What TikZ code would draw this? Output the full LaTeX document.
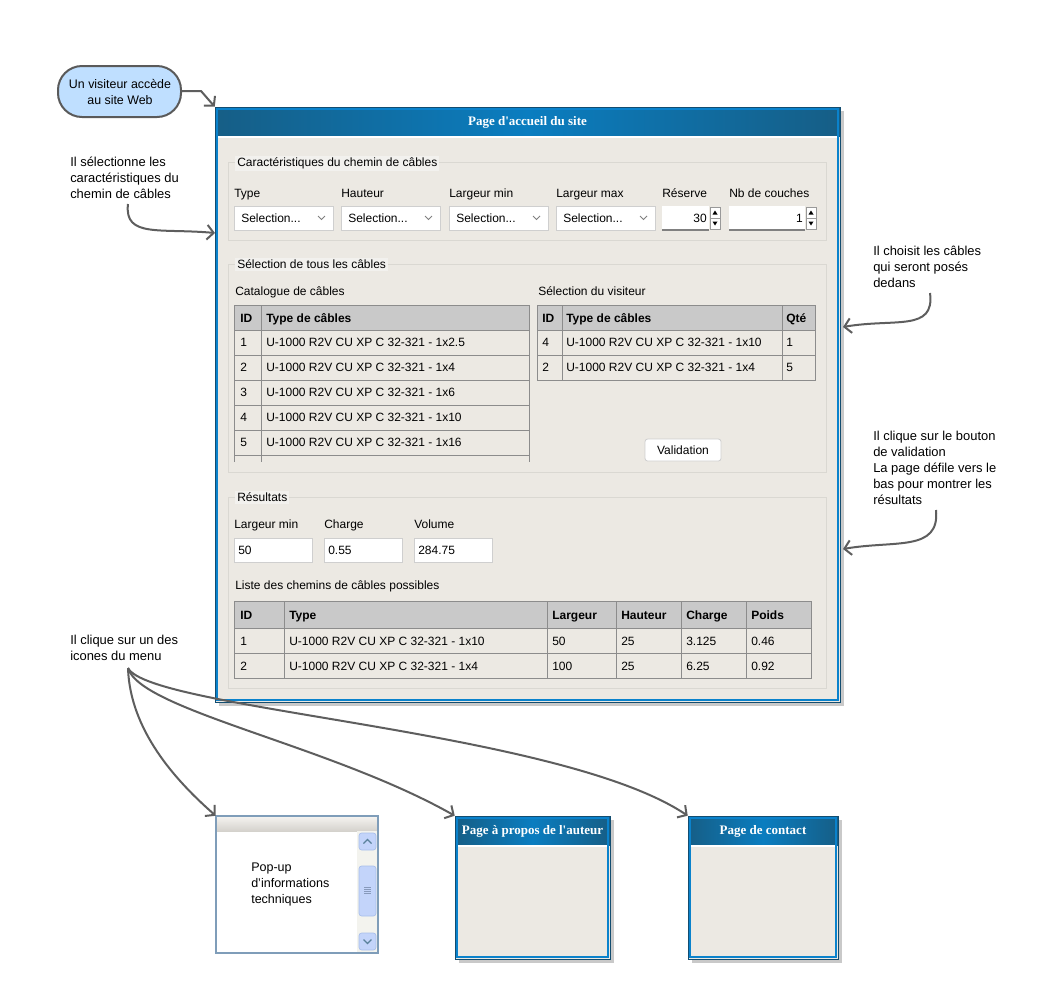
\documentclass[tikz,border=0pt]{standalone}
\usepackage{fontspec}
\setmainfont{Liberation Sans}
\newfontfamily\ttlfont{Liberation Serif}
\usetikzlibrary{arrows.meta,fit,calc}
\definecolor{bodyc}{HTML}{ECE9E3}
\definecolor{hdrc}{HTML}{165E86}
\definecolor{hdrmid}{HTML}{0A7DC0}
\definecolor{frameblue}{HTML}{0A82CC}
\definecolor{framedark}{HTML}{134D70}
\definecolor{shadowc}{HTML}{C9C9C9}
\definecolor{grpline}{HTML}{DAD8D2}
\definecolor{grpbg}{HTML}{F2F1EE}
\definecolor{hdrgray}{HTML}{C9C9C9}
\definecolor{cellc}{HTML}{8C8C8C}
\definecolor{connc}{HTML}{5E5E5E}
\definecolor{pillfill}{HTML}{BFDFFF}
\definecolor{pillline}{HTML}{5A5A5A}
\definecolor{popline}{HTML}{7F9DB9}
\definecolor{scrollbtn}{HTML}{C3D4FA}
\definecolor{scrollbd}{HTML}{A9BFEA}
\definecolor{tracker}{HTML}{F3F3EE}
\definecolor{ctrlline}{HTML}{CFCFCF}
\newcommand\uifont{\fontsize{9}{12}\selectfont}
\newcommand\annfont{\fontsize{9.7}{12}\selectfont}
\newcommand\webpage[6]{%
  \fill[shadowc] (#2+4,#3+4) rectangle (#4+4,#5+4);
  \fill[bodyc] (#2,#3) rectangle (#4,#5);
  \shade[left color=hdrc, right color=hdrc, middle color=hdrmid] (#2,#3) rectangle (#4,#3+29);
  \fill[white] (#2+2,#3+29) rectangle (#4-2,#3+31);
  \draw[framedark, line width=0.75pt] (#2,#3) rectangle (#4,#5);
  \draw[frameblue, line width=1.5pt] (#2+1.8,#3+1.8) rectangle (#4-1.8,#5-1.8);
  \node[fit={(#2,#3) (#4,#5)}, inner sep=0] (#1) {};
  \node[ttl] (#1-title) at ({(#2+#4)/2},#3+15) {#6};
}
\newcommand\dropbox[4]{% name, x1, x2, label
  \fill[white] (#2,206) rectangle (#3,230);
  \draw[ctrlline, line width=0.6pt] (#2,206) rectangle (#3,230);
  \node[t] (#1) at (#2+7,222.5) {#4};
  \draw[gray, line width=0.6pt] (#3-15,216) -- (#3-11.5,219.5) -- (#3-8,216);
}
\newcommand\spinbox[4]{% name, x1, x2, value
  \fill[white] (#2,206) rectangle (#3-11,230);
  \draw[gray, line width=0.8pt] (#2,230) -- (#3-11,230);
  \node[t, anchor=base east] (#1) at (#3-13,222.5) {#4};
  \fill[white] (#3-10,207) rectangle (#3,229);
  \draw[gray!80, line width=0.5pt] (#3-10,207) rectangle (#3,218) (#3-10,218) rectangle (#3,229);
  \fill[black] (#3-7.5,214.5) -- (#3-2.5,214.5) -- (#3-5,210.5) -- cycle;
  \fill[black] (#3-7.5,221.5) -- (#3-2.5,221.5) -- (#3-5,225.5) -- cycle;
}
\begin{document}
\begin{tikzpicture}[x=0.75pt,y=-0.75pt,
  t/.style={anchor=base west, inner sep=0, font=\uifont, text=black},
  tb/.style={t, font=\uifont\bfseries},
  ttl/.style={font=\ttlfont\fontsize{9.75}{12}\selectfont\bfseries, text=white, inner sep=0},
  ann/.style={anchor=north west, inner sep=0, align=left, font=\annfont},
  grp/.style={t, fill=grpbg, inner xsep=1.5pt, inner ysep=1.5pt},
  conn/.style={draw=connc, line width=1.5pt, -{Straight Barb[length=5pt,width=11pt]}},
  fieldbox/.style={fill=white, draw=ctrlline, line width=0.5pt}]
\useasboundingbox (0,0) rectangle (1037,1004);
\fill[white] (0,0) rectangle (1037,1004);

% start pill
\node[fit={(58,66) (181,117)}, inner sep=0, draw=pillline, fill=pillfill, line width=1.5pt, rounded corners=18pt] (start) {};
\node[align=center, font=\fontsize{9.3}{12}\selectfont, inner sep=0] (starttxt) at (120,91.5) {Un visiteur accède\\au site Web};

% main page
\webpage{main}{215}{107}{840}{702}{Page d'accueil du site}

% group 1
\draw[grpline, line width=0.6pt] (228,162) rectangle (826,240);
\node[grp] (g1) at (235,166.5) {Caractéristiques du chemin de câbles};
\node[t] (l-type) at (234,197.5) {Type};
\node[t] (l-haut) at (341,197.5) {Hauteur};
\node[t] (l-lmin) at (449,197.5) {Largeur min};
\node[t] (l-lmax) at (556,197.5) {Largeur max};
\node[t] (l-res) at (662,197.5) {Réserve};
\node[t] (l-nb) at (729,197.5) {Nb de couches};
\dropbox{d-type}{234}{333}{Selection...}
\dropbox{d-haut}{341}{440}{Selection...}
\dropbox{d-lmin}{449}{548}{Selection...}
\dropbox{d-lmax}{556}{655}{Selection...}
\spinbox{s-res}{662}{720}{30}
\spinbox{s-nb}{729}{816}{1}

% group 2
\draw[grpline, line width=0.6pt] (228,264) rectangle (826,472);
\node[grp] (g2) at (235,268.5) {Sélection de tous les câbles};
\node[t] (cat-title) at (235,295.5) {Catalogue de câbles};
\fill[hdrgray] (234,305) rectangle (529,330);
\draw[cellc, line width=0.6pt] (234,462) -- (234,305) -- (529,305) -- (529,462);
\foreach \y in {330,355,380,405,430,455} \draw[cellc, line width=0.6pt] (234,\y) -- (529,\y);
\draw[cellc, line width=0.6pt] (261,305) -- (261,462);
\node[tb] (cat-h1) at (240,322) {ID};
\node[tb] (cat-h2) at (266,322) {Type de câbles};
\foreach \i/\s in {1/1x2.5,2/1x4,3/1x6,4/1x10,5/1x16} {
  \node[t] (cat-id\i) at (240,{321.5+25*\i}) {\i};
  \node[t] (cat-ty\i) at (266,{321.5+25*\i}) {U-1000 R2V CU XP C 32-321 - \s};
}

\node[t] (sel-title) at (538,295.5) {Sélection du visiteur};
\fill[hdrgray] (537,305) rectangle (815,330);
\draw[cellc, line width=0.6pt] (537,305) rectangle (815,380);
\foreach \y in {330,355} \draw[cellc, line width=0.6pt] (537,\y) -- (815,\y);
\foreach \x in {562,782} \draw[cellc, line width=0.6pt] (\x,305) -- (\x,380);
\node[tb] (sel-h1) at (542,322) {ID};
\node[tb] (sel-h2) at (566,322) {Type de câbles};
\node[tb] (sel-h3) at (786,322) {Qté};
\node[t] (sel-id1) at (542,346.5) {4};
\node[t] (sel-ty1) at (566,346.5) {U-1000 R2V CU XP C 32-321 - 1x10};
\node[t] (sel-q1) at (786,346.5) {1};
\node[t] (sel-id2) at (542,371.5) {2};
\node[t] (sel-ty2) at (566,371.5) {U-1000 R2V CU XP C 32-321 - 1x4};
\node[t] (sel-q2) at (786,371.5) {5};

\node[fit={(645,439) (721,461)}, inner sep=0, fill=white, draw=ctrlline, line width=0.6pt, rounded corners=2pt] (valid) {};
\node[inner sep=0, font=\uifont] (valid-txt) at (683,450.5) {Validation};

% group 3
\draw[grpline, line width=0.6pt] (228,497) rectangle (826,688);
\node[grp] (g3) at (235,501.5) {Résultats};
\node[t] (r-l1) at (234,528.5) {Largeur min};
\node[t] (r-l2) at (324,528.5) {Charge};
\node[t] (r-l3) at (414,528.5) {Volume};
\fill[fieldbox] (234,538) rectangle (312,562);
\fill[fieldbox] (324,538) rectangle (402,562);
\fill[fieldbox] (414,538) rectangle (492,562);
\draw[ctrlline, line width=0.6pt] (234,538) rectangle (312,562) (324,538) rectangle (402,562) (414,538) rectangle (492,562);
\node[t] (r-v1) at (238,554.5) {50};
\node[t] (r-v2) at (328,554.5) {0.55};
\node[t] (r-v3) at (418,554.5) {284.75};
\node[t] (res-title) at (235,589.5) {Liste des chemins de câbles possibles};
\fill[hdrgray] (234,601) rectangle (811,628);
\draw[cellc, line width=0.6pt] (234,601) rectangle (811,678);
\foreach \y in {628,653} \draw[cellc, line width=0.6pt] (234,\y) -- (811,\y);
\foreach \x in {284,547,616,681,746} \draw[cellc, line width=0.6pt] (\x,601) -- (\x,678);
\node[tb] (res-h1) at (240,619) {ID};
\node[tb] (res-h2) at (289,619) {Type};
\node[tb] (res-h3) at (552,619) {Largeur};
\node[tb] (res-h4) at (621,619) {Hauteur};
\node[tb] (res-h5) at (686,619) {Charge};
\node[tb] (res-h6) at (751,619) {Poids};
\node[t] (res-a1) at (240,645) {1};
\node[t] (res-a2) at (289,645) {U-1000 R2V CU XP C 32-321 - 1x10};
\node[t] (res-a3) at (552,645) {50};
\node[t] (res-a4) at (621,645) {25};
\node[t] (res-a5) at (686,645) {3.125};
\node[t] (res-a6) at (751,645) {0.46};
\node[t] (res-b1) at (240,670) {2};
\node[t] (res-b2) at (289,670) {U-1000 R2V CU XP C 32-321 - 1x4};
\node[t] (res-b3) at (552,670) {100};
\node[t] (res-b4) at (621,670) {25};
\node[t] (res-b5) at (686,670) {6.25};
\node[t] (res-b6) at (751,670) {0.92};

% popup
\fill[white] (216,816) rectangle (378,953);
\shade[top color=white!50!bodyc, bottom color=bodyc!90!black] (216,816) rectangle (378,831);
\fill[tracker] (357,831) rectangle (377,952);
\fill[scrollbtn, rounded corners=2pt] (359,833) rectangle (376,850);
\draw[scrollbd, line width=0.5pt, rounded corners=2pt] (359,833) rectangle (376,850);
\fill[scrollbtn, rounded corners=2pt] (359,866) rectangle (376,916);
\draw[scrollbd, line width=0.5pt, rounded corners=2pt] (359,866) rectangle (376,916);
\fill[scrollbtn, rounded corners=2pt] (359,933) rectangle (376,950);
\draw[scrollbd, line width=0.5pt, rounded corners=2pt] (359,933) rectangle (376,950);
\draw[framedark!70, line width=0.9pt] (363.5,843.5) -- (367.5,839.5) -- (371.5,843.5);
\draw[framedark!70, line width=0.9pt] (363.5,939.5) -- (367.5,943.5) -- (371.5,939.5);
\foreach \y in {887,889,891,893} \draw[scrollbd!80!black, line width=0.4pt] (364,\y) -- (371,\y);
\draw[popline, line width=0.8pt] (216,816) rectangle (378,953);
\node[fit={(216,816) (378,953)}, inner sep=0] (popup) {};
\node[ann, font=\fontsize{9.4}{12}\selectfont] (poptxt) at (251,862.5) {Pop-up\\d'informations\\techniques};

% other pages
\webpage{about}{455}{816}{610}{959}{Page à propos de l'auteur}
\webpage{contact}{688}{816}{838}{959}{Page de contact}

% annotations
\node[ann] (ann1) at (70,157) {Il sélectionne les\\caractéristiques du\\chemin de câbles};
\node[ann] (ann2) at (873,246) {Il choisit les câbles\\qui seront posés\\dedans};
\node[ann] (ann3) at (873,431) {Il clique sur le bouton\\de validation\\La page défile vers le\\bas pour montrer les\\résultats};
\node[ann] (ann4) at (70,635) {Il clique sur un des\\icones du menu};

% connector anchor points
\coordinate (c1s) at (128,204);
\coordinate (c1e) at (215,233);
\coordinate (c2s) at (930,293);
\coordinate (c2e) at (843,327);
\coordinate (c3s) at (936,510);
\coordinate (c3e) at (843,549);
\coordinate (c4s) at (128,668);

% connectors
\draw[conn] (start.east |- 0,91) -- (201,91) -- (main.north west);
\draw[conn] (c1s) .. controls (124,238) and (160,228) .. (c1e);
\draw[conn] (c2s) .. controls (935,332) and (895,318) .. (c2e);
\draw[conn] (c3s) .. controls (940,552) and (895,540) .. (c3e);
\draw[conn] (c4s) .. controls (130,730) and (175,780) .. (popup.north west);
\draw[conn] (c4s) .. controls (140,710) and (330,745) .. (about.north west);
\draw[conn] (c4s) .. controls (150,710) and (560,730) .. (contact.north west);
\end{tikzpicture}
\end{document}
